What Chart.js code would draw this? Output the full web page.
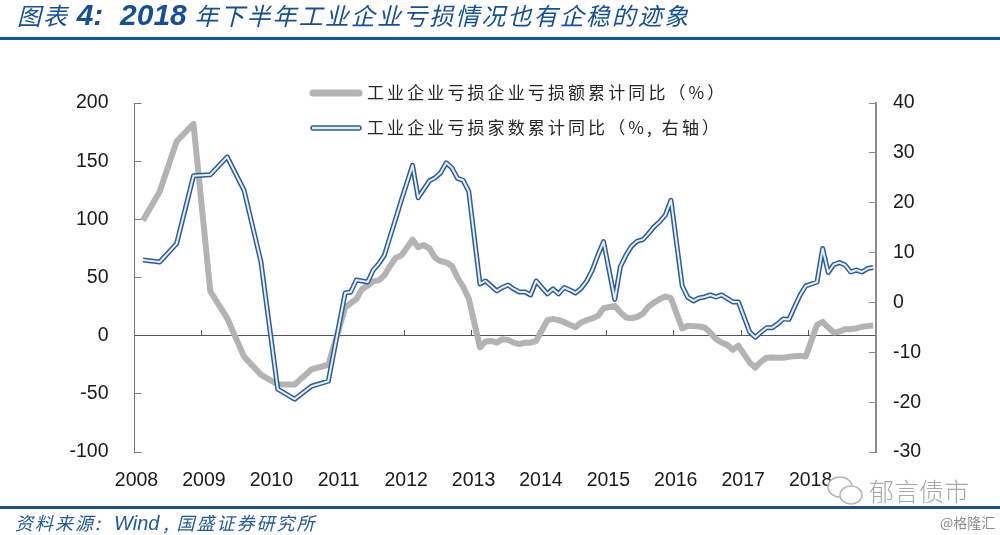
<!DOCTYPE html>
<html>
<head>
<meta charset="utf-8">
<script src="https://cdn.jsdelivr.net/npm/chart.js@4"></script>
<style>
    html, body { margin: 0; padding: 0; background: #fff; overflow: hidden; }
    #wrap { position: relative; width: 1000px; height: 535px; }
    #myChart { position: absolute; left: 0; top: 0; }
    .txt { position: absolute; white-space: nowrap; }
    #title { left: 17px; top: -2px; font: italic 24px "Noto Sans CJK SC"; letter-spacing: 2.1px; color: #134f9e; line-height: 34px; }
    #title b { font: italic bold 30px "Liberation Sans"; letter-spacing: 0; }
    #rule1 { position: absolute; left: 0; top: 37px; width: 1000px; height: 3px; background: #1553a6; }
    #rule2 { position: absolute; left: 0; top: 506px; width: 1000px; height: 3px; background: #1b4f8f; }
    #source { left: 15px; top: 510px; font: italic 18px "Noto Sans CJK SC"; letter-spacing: 2px; color: #1f5aa0; line-height: 24px; }
    #source i { font: italic 20px "Liberation Sans"; letter-spacing: 0; margin: 0 4px 0 6px; }
    #mark { left: 869px; top: 473px; font: 25px "Noto Sans CJK SC"; font-weight: 300; color: #a8a8a8; line-height: 34px; }
    #site { left: 940px; top: 513px; font: 14px "Noto Sans CJK SC"; color: #8c8c8c; line-height: 18px; }
    #icon { position: absolute; left: 825px; top: 474px; }
</style>
</head>
<body>
<div id="wrap">
    <canvas id="myChart" width="1000" height="535"></canvas>
    <div id="title" class="txt">图表 <b>4:&nbsp; 2018</b> 年下半年工业企业亏损情况也有企稳的迹象</div>
    <div id="rule1"></div>
    <div id="rule2"></div>
    <div id="source" class="txt">资料来源: <i>Wind</i>, 国盛证券研究所</div>
    <svg id="icon" width="42" height="34" fill="#fff" stroke="#b5b5b5" stroke-width="1.5">
        <ellipse cx="15" cy="13" rx="12" ry="10"/>
        <ellipse cx="26" cy="21" rx="11" ry="9"/>
    </svg>
    <div id="mark" class="txt">郁言债市</div>
    <div id="site" class="txt">@格隆汇</div>
</div>
<script>
const tick_labels_left = [-100, -50, 0, 50, 100, 150, 200];
const tick_labels_right = [-30, -20, -10, 0, 10, 20, 30, 40];
const legend_names = ["工业企业亏损企业亏损额累计同比（%）", "工业企业亏损家数累计同比（%, 右轴）"];

const months = [
    "2008-02", "2008-05", "2008-08", "2008-11",
    "2009-02", "2009-05", "2009-08", "2009-11",
    "2010-02", "2010-05", "2010-08", "2010-11",
    "2011-02", "2011-03", "2011-04", "2011-05", "2011-06", "2011-07", "2011-08", "2011-09", "2011-10", "2011-11", "2011-12",
    "2012-02", "2012-03", "2012-04", "2012-05", "2012-06", "2012-07", "2012-08", "2012-09", "2012-10", "2012-11", "2012-12",
    "2013-02", "2013-03", "2013-04", "2013-05", "2013-06", "2013-07", "2013-08", "2013-09", "2013-10", "2013-11", "2013-12",
    "2014-02", "2014-03", "2014-04", "2014-05", "2014-06", "2014-07", "2014-08", "2014-09", "2014-10", "2014-11", "2014-12",
    "2015-02", "2015-03", "2015-04", "2015-05", "2015-06", "2015-07", "2015-08", "2015-09", "2015-10", "2015-11", "2015-12",
    "2016-02", "2016-03", "2016-04", "2016-05", "2016-06", "2016-07", "2016-08", "2016-09", "2016-10", "2016-11", "2016-12",
    "2017-02", "2017-03", "2017-04", "2017-05", "2017-06", "2017-07", "2017-08", "2017-09", "2017-10", "2017-11", "2017-12",
    "2018-02", "2018-03", "2018-04", "2018-05", "2018-06", "2018-07", "2018-08", "2018-09", "2018-10", "2018-11", "2018-12"
];

const loss_amount = [
    99, 124, 167, 182,
    38, 15, -18, -33.5,
    -42, -42, -29, -25,
    24, 28, 31.5, 40, 43, 46.7, 47.5, 52, 60, 67, 69,
    82.5, 76, 78, 75, 67, 64, 63, 60, 50, 42, 32,
    -10, -5, -4.5, -6, -3, -3.6, -6, -7.3, -6, -6, -4.4,
    13.3, 14.5, 13.3, 11.6, 9.3, 7.3, 11.3, 13.3, 14.8, 17, 23.6,
    25.6, 20, 15.6, 15, 16.2, 19, 25, 28.5, 31.4, 33.7, 32.2,
    6.2, 8.5, 8.2, 7.9, 7, 2.7, -3, -5.9, -7.9, -12.2, -8.7,
    -23, -27.4, -22.5, -19, -18.8, -19, -19, -18.2, -17.6, -17.3, -18,
    9.3, 11.9, 7, 2.7, 3.6, 5.6, 5.6, 6.4, 7.6, 8.2, 8.7
];

const loss_count = [
    8.5, 8.1, 11.8, 25.4,
    25.6, 29.2, 22.5, 8.2,
    -17.4, -19.4, -16.8, -15.8,
    1.9, 2.1, 4.5, 4.3, 4.1, 6.5, 7.8, 9.5, 13.2, 16.8, 20.5,
    27.5, 21, 22.7, 24.4, 25, 26, 28, 27, 24.9, 24.5, 22.3,
    3.7, 4.3, 3.3, 2.3, 3, 3.5, 2.7, 2.1, 2.1, 1.5, 4.3,
    1.7, 2.7, 1.7, 3, 2.5, 1.9, 2.8, 4.3, 6.5, 9.5, 12.2,
    0.6, 7.2, 9.5, 11.3, 12.3, 12.6, 13.8, 15.2, 16.2, 17.5, 20.5,
    3.3, 1, 0.3, 0.9, 1.1, 1.5, 1.1, 1.5, 0.8, 0.1, 0.1,
    -5.9, -7, -6, -5.1, -5.1, -4.3, -3.3, -3.4, -0.9, 1.5, 3.3,
    4.1, 10.8, 6, 7.6, 8, 7.5, 6.1, 6.5, 6.1, 6.8, 7
];

const GREY = "#b3b3b3";
const BLUE = "#2b5c98";
const BLUE_IN = "#e3eef8";
const NUM_FONT = { family: "'Liberation Sans'", size: 19.5 };

// "2012-02" -> middle of that month on the year axis
function monthToYear(m) {
    const parts = m.split("-");
    return Number(parts[0]) + (Number(parts[1]) - 0.5) / 12;
}

function toPoints(values) {
    const points = [];
    for (let i = 0; i < values.length; i += 1) {
        points.push({ x: monthToYear(months[i]), y: values[i] });
    }
    return points;
}

// legend sits inside the plot, stacked, so it is drawn by hand
const legendPlugin = {
    id: "sideLegend",
    afterDraw(chart) {
        const ctx = chart.ctx;
        const rows = [93, 128];
        ctx.save();
        ctx.font = "17px 'Noto Sans CJK SC'";
        ctx.letterSpacing = "3.1px";
        ctx.fillStyle = "#262626";
        ctx.textBaseline = "middle";
        ctx.lineCap = "round";
        ctx.beginPath(); ctx.moveTo(313, rows[0]); ctx.lineTo(359, rows[0]);
        ctx.strokeStyle = GREY; ctx.lineWidth = 7; ctx.stroke();
        ctx.beginPath(); ctx.moveTo(313, rows[1]); ctx.lineTo(359, rows[1]);
        ctx.strokeStyle = BLUE; ctx.lineWidth = 5.5; ctx.stroke();
        ctx.strokeStyle = BLUE_IN; ctx.lineWidth = 2.4; ctx.stroke();
        ctx.fillText(legend_names[0], 367, rows[0]);
        ctx.fillText(legend_names[1], 367, rows[1]);
        ctx.restore();
    }
};

const ctx = document.getElementById("myChart").getContext("2d");
const myChart = new Chart(ctx, {
    type: "line",
    data: {
        datasets: [
            { label: legend_names[0], data: toPoints(loss_amount), yAxisID: "y", borderColor: GREY, borderWidth: 6, borderJoinStyle: "round", order: 3 },
            { label: legend_names[1], data: toPoints(loss_count), yAxisID: "y1", borderColor: BLUE, borderWidth: 5, borderJoinStyle: "round", order: 2 },
            { label: "", data: toPoints(loss_count), yAxisID: "y1", borderColor: BLUE_IN, borderWidth: 2, borderJoinStyle: "round", order: 1 }
        ]
    },
    plugins: [legendPlugin],
    options: {
        responsive: false,
        animation: false,
        elements: { point: { radius: 0 }, line: { tension: 0 } },
        layout: { padding: { left: 0, right: 24, top: 103, bottom: 0 } },
        plugins: { legend: { display: false }, tooltip: { enabled: false } },
        scales: {
            x: {
                type: "linear",
                position: "bottom",
                min: 2008,
                max: 2019,
                border: { display: false },
                grid: { display: false, drawTicks: false },
                ticks: {
                    stepSize: 1,
                    maxRotation: 0,
                    autoSkip: false,
                    padding: 17,
                    labelOffset: 2,
                    color: "#1a1a1a",
                    font: NUM_FONT,
                    callback: function (v) { return v < 2019 ? String(v) : ""; }
                },
                afterFit: function (scale) { scale.height = 83; }
            },
            x2: {
                type: "linear",
                axis: "x",
                position: { y: 0 },
                min: 2008,
                max: 2019,
                border: { display: true, color: "#555555", width: 1 },
                grid: { drawOnChartArea: false, drawTicks: true, tickLength: -6, color: "#555555" },
                ticks: { stepSize: 1, display: false }
            },
            y: {
                position: "left",
                min: tick_labels_left[0],
                max: tick_labels_left[tick_labels_left.length - 1],
                border: { display: true, color: "#777777", width: 1 },
                grid: { drawOnChartArea: false, tickLength: -7, color: "#777777" },
                ticks: { stepSize: 50, padding: 33, color: "#1a1a1a", font: NUM_FONT },
                afterFit: function (scale) { scale.width = 134.5; }
            },
            y1: {
                position: "right",
                min: tick_labels_right[0],
                max: tick_labels_right[tick_labels_right.length - 1],
                border: { display: true, color: "#8a8a8a", width: 2 },
                grid: { drawOnChartArea: false, tickLength: -7, color: "#8a8a8a" },
                ticks: { stepSize: 10, padding: 24, color: "#1a1a1a", font: NUM_FONT },
                afterFit: function (scale) { scale.width = 100; }
            }
        }
    }
});
</script>
</body>
</html>
